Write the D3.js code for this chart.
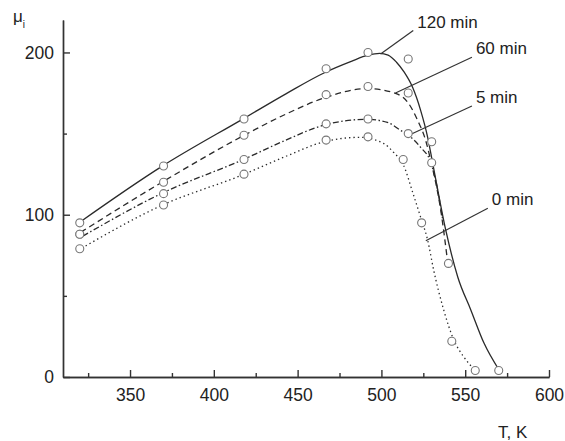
<!DOCTYPE html>
<html>
<head>
<meta charset="utf-8">
<script src="https://cdn.jsdelivr.net/npm/d3@7"></script>
<style>
  body { margin: 0; background: #fff; }
  svg { display: block; font-family: "Liberation Sans", Arial, sans-serif; }
  .axis path, .axis line { stroke: #333; stroke-width: 1.4; }
  .axis text { font-size: 17.5px; fill: #222; }
</style>
</head>
<body>
<div id="chart"></div>
<script>
// set svg width and height
let svgWidth = 565;
let svgHeight = 441;

// plot area in pixels
let margin = { top: 20, right: 16, bottom: 64, left: 63 };
let width = svgWidth - margin.left - margin.right;
let height = svgHeight - margin.top - margin.bottom;

// tick values
let xMajor = [350, 400, 450, 500, 550, 600];
let xMinor = [325, 375, 425, 475, 525, 575];
let yMajor = [0, 100, 200];
let yMinor = [50, 150];

// measured points [T, mu] for each holding time
let pts120 = [[320, 95], [370, 130], [418, 159], [467, 190], [492, 200], [516, 196], [530, 145], [570, 4]];
let pts60 = [[320, 88], [370, 120], [418, 149], [467, 174], [492, 179], [516, 175], [540, 70]];
let pts5 = [[320, 88], [370, 113], [418, 134], [467, 156], [492, 159], [516, 150], [530, 132]];
let pts0 = [[320, 79], [370, 106], [418, 125], [467, 146], [492, 148], [513, 134], [524, 95], [542, 22], [556, 4]];

// fitted curves
let fit120 = [[320, 95.4], [369, 129.8], [418, 159.4], [443, 174.5], [466, 187.5], [482, 194.5], [492, 198.3],
  [499, 199.4], [504, 198.4], [509, 194], [513.5, 188], [518.6, 178.5], [523.4, 164.3], [527.6, 147.7],
  [530.6, 131.7], [538.4, 90.5], [545.6, 61.5], [553.4, 41.2], [561.2, 20.9], [570.2, 4.3]];
let fit60 = [[320.6, 89.2], [369, 120], [418, 148.9], [443, 162], [466, 172], [491.6, 177.8], [508.4, 174.8],
  [516.2, 168.6], [521.6, 158.2], [526.4, 145.8], [529.4, 133.5], [535.4, 102.8], [539.6, 70.2]];
let fit5 = [[321.8, 86.8], [369, 113.2], [418, 134.2], [443, 146], [466, 155.3], [491.6, 158.8], [503.6, 156.9],
  [511.4, 152], [516.2, 148.9], [523.4, 141.5], [529.4, 132.3], [533.6, 115.1], [536.6, 96.6]];
let fit0 = [[321.2, 79.4], [369, 105.8], [418, 124.9], [443, 136], [466, 145], [487.4, 147.7], [501.2, 144],
  [507.2, 138.5], [513.2, 130.5], [519.2, 112], [523.4, 98.5], [527.6, 84.3], [531.2, 65.8], [537.2, 41.2],
  [543.2, 22.8], [549.2, 12.3], [554.6, 5.5]];

// series labels with leader lines [from T, from mu, to T, to mu]
let labels = ["120 min", "60 min", "5 min", "0 min"];
let leaders = [[499.5, 199, 519, 213.5], [508.4, 175, 554, 197], [516, 148.8, 554, 167], [526.5, 84, 563.5, 104]];

let series = [
  { name: labels[0], fit: fit120, pts: pts120, dash: null },
  { name: labels[1], fit: fit60, pts: pts60, dash: "6,4" },
  { name: labels[2], fit: fit5, pts: pts5, dash: "6,2.5,1.5,2.5" },
  { name: labels[3], fit: fit0, pts: pts0, dash: "1.4,3" }
];

let svg = d3.select("#chart")
  .append("svg")
  .attr("width", svgWidth)
  .attr("height", svgHeight);

let g = svg.append("g")
  .attr("transform", `translate(${margin.left}, ${margin.top})`);

// scales
let x = d3.scaleLinear().domain([310, 600]).range([0, width]);
let y = d3.scaleLinear().domain([0, 220]).range([height, 0]);

// x axis, ticks pointing inward
g.append("g")
  .attr("class", "axis")
  .attr("transform", `translate(0, ${height})`)
  .call(d3.axisBottom(x).tickValues(xMinor).tickSize(-4).tickSizeOuter(0).tickFormat(""));
g.append("g")
  .attr("class", "axis")
  .attr("transform", `translate(0, ${height})`)
  .call(d3.axisBottom(x).tickValues(xMajor).tickSize(-7).tickSizeOuter(0).tickPadding(12).tickFormat(d3.format("d")));

// y axis
g.append("g")
  .attr("class", "axis")
  .call(d3.axisLeft(y).tickValues(yMinor).tickSize(-4).tickSizeOuter(0).tickFormat(""));
g.append("g")
  .attr("class", "axis")
  .call(d3.axisLeft(y).tickValues(yMajor).tickSize(-7).tickSizeOuter(0).tickPadding(9).tickFormat(d3.format("d")));

// curves
let line = d3.line()
  .x(d => x(d[0]))
  .y(d => y(d[1]))
  .curve(d3.curveMonotoneX);

g.selectAll(".fit")
  .data(series)
  .enter()
  .append("path")
  .attr("class", "fit")
  .attr("d", d => line(d.fit))
  .attr("fill", "none")
  .attr("stroke", "#2a2a2a")
  .attr("stroke-width", 1.3)
  .attr("stroke-dasharray", d => d.dash);

// leader lines
g.selectAll(".leader")
  .data(leaders)
  .enter()
  .append("line")
  .attr("x1", d => x(d[0]))
  .attr("y1", d => y(d[1]))
  .attr("x2", d => x(d[2]))
  .attr("y2", d => y(d[3]))
  .attr("stroke", "#333")
  .attr("stroke-width", 1.2);

// labels next to the leaders
g.selectAll(".lab")
  .data(leaders)
  .enter()
  .append("text")
  .attr("x", d => x(d[2]) + 4)
  .attr("y", d => y(d[3]) - 3)
  .attr("font-size", 17)
  .attr("fill", "#222")
  .text((d, i) => labels[i]);

// circles
series.forEach(function(s) {
  g.selectAll(null)
    .data(s.pts)
    .enter()
    .append("circle")
    .attr("cx", d => x(d[0]))
    .attr("cy", d => y(d[1]))
    .attr("r", 4)
    .attr("fill", "#fff")
    .attr("stroke", "#777")
    .attr("stroke-width", 1.1);
});

// axis titles
svg.append("text")
  .attr("x", 498)
  .attr("y", 438)
  .attr("font-size", 17)
  .attr("fill", "#222")
  .text("T, K");

let mu = svg.append("text")
  .attr("x", 13)
  .attr("y", 22)
  .attr("font-size", 17)
  .attr("fill", "#222");
mu.append("tspan").text("μ");
mu.append("tspan").attr("font-size", 10).attr("dy", 6).text("i");
</script>
</body>
</html>
